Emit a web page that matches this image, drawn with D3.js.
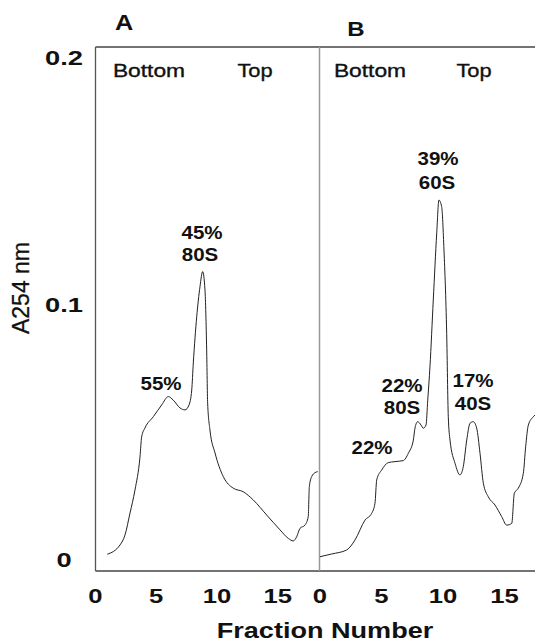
<!DOCTYPE html>
<html>
<head>
<meta charset="utf-8">
<script src="https://cdn.jsdelivr.net/npm/d3@7"></script>
<style>
  html, body { margin: 0; padding: 0; background: #fff; }
  svg { display: block; }
  text { font-family: "Liberation Sans", Arial, Helvetica, sans-serif; fill: #111; }
</style>
</head>
<body>
<svg id="chart" width="535" height="641"></svg>
<script>
// ---- Data ----
const fracA = [0.97, 2.02, 2.43, 2.84, 3.25, 3.66, 3.80, 4.07, 4.76, 5.45, 5.99, 6.40, 6.95, 7.37, 7.70, 7.92, 8.05, 8.33, 8.60, 8.82, 9.01, 9.15, 9.23, 9.42, 9.84, 10.52, 11.34, 12.16, 12.99, 14.09, 15.19, 15.87, 16.28, 16.56, 16.83, 17.24, 17.51, 17.60, 17.79, 18.07, 18.29];
const absA  = [0.0023, 0.006, 0.010, 0.0187, 0.0279, 0.041, 0.0491, 0.0526, 0.0571, 0.0618, 0.0651, 0.0637, 0.0606, 0.0598, 0.0618, 0.0677, 0.0785, 0.0969, 0.1089, 0.1149, 0.1076, 0.0837, 0.0625, 0.0518, 0.0426, 0.0332, 0.0286, 0.0272, 0.0239, 0.0179, 0.0120, 0.0086, 0.0076, 0.0093, 0.0126, 0.0139, 0.0173, 0.0292, 0.0332, 0.0348, 0.0352];

const fracB = [0, 0.95, 2.17, 2.85, 3.66, 4.20, 4.47, 4.61, 5.02, 5.55, 6.10, 6.77, 7.18, 7.59, 7.72, 7.94, 8.21, 8.40, 8.62, 8.76, 8.94, 9.21, 9.49, 9.67, 9.89, 10.08, 10.30, 10.43, 10.57, 10.98, 11.38, 11.65, 11.93, 12.20, 12.46, 12.74, 13.01, 13.28, 13.68, 14.23, 14.77, 15.18, 15.59, 15.80, 16.12, 16.53, 16.72, 16.94, 17.35, 17.48];
const absB  = [0.0013, 0.0024, 0.0040, 0.0080, 0.0159, 0.0186, 0.0226, 0.0319, 0.0359, 0.0388, 0.0392, 0.0396, 0.0425, 0.0478, 0.0525, 0.0551, 0.0538, 0.0525, 0.0538, 0.0637, 0.0770, 0.1036, 0.1302, 0.1434, 0.1408, 0.1235, 0.0903, 0.0571, 0.0478, 0.0385, 0.0339, 0.0372, 0.0478, 0.0545, 0.0551, 0.0525, 0.0425, 0.0306, 0.0252, 0.0219, 0.0173, 0.0139, 0.0146, 0.0266, 0.0286, 0.0345, 0.0451, 0.0538, 0.0571, 0.0578];

const panelTitles = ["A", "B"];
const xTickValues = [0, 5, 10, 15];
const yTickValues = [0, 0.1, 0.2];
const yTickLabels = ["0", "0.1", "0.2"];
const gradientLabels = ["Bottom", "Top"];
const peakLabelsA = [["45%", "80S"], ["55%"]];
const peakLabelsB = [["39%", "60S"], ["22%", "80S"], ["17%", "40S"], ["22%"]];

// ---- Layout ----
const svg = d3.select("#chart");
const frameTop = 47, frameBottom = 571, frameLeft = 95.5, divider = 319.5, frameRight = 535;

const y = d3.scaleLinear().domain([0, 0.2]).range([560, 58]);
const xA = d3.scaleLinear().domain([0, 18.4]).range([frameLeft, frameLeft + 18.4 * 12.15]);
const xB = d3.scaleLinear().domain([0, 17.48]).range([320, 535]);

function label(g, x, yy, txt, o) {
  const t = g.append("text")
    .attr("transform", `translate(${x},${yy}) scale(${o.sx || 1},1)`)
    .attr("text-anchor", o.anchor || "middle")
    .attr("dy", "0.35em")
    .style("font-size", o.size + "px")
    .style("font-weight", o.weight || "normal")
    .text(txt);
  if (o.stroke) t.attr("stroke", "#111").attr("stroke-width", o.stroke);
  return t;
}

// Frame
const frame = svg.append("g");
frame.append("line").attr("x1", frameLeft).attr("x2", frameRight).attr("y1", frameTop).attr("y2", frameTop)
  .attr("stroke", "#444").attr("stroke-width", 1.3);
frame.append("line").attr("x1", frameLeft).attr("x2", frameRight).attr("y1", frameBottom).attr("y2", frameBottom)
  .attr("stroke", "#444").attr("stroke-width", 1.5);
frame.append("line").attr("x1", frameLeft).attr("x2", frameLeft).attr("y1", frameTop).attr("y2", frameBottom)
  .attr("stroke", "#555").attr("stroke-width", 1.3);
frame.append("line").attr("x1", divider).attr("x2", divider).attr("y1", frameTop).attr("y2", frameBottom)
  .attr("stroke", "#999").attr("stroke-width", 1.5);

// Curves
const lineA = d3.line().x((d, i) => xA(fracA[i])).y((d, i) => y(absA[i])).curve(d3.curveMonotoneX);
const lineB = d3.line().x((d, i) => xB(fracB[i])).y((d, i) => y(absB[i])).curve(d3.curveMonotoneX);
svg.append("path").attr("d", lineA(fracA)).attr("fill", "none").attr("stroke", "#222").attr("stroke-width", 1);
svg.append("path").attr("d", lineB(fracB)).attr("fill", "none").attr("stroke", "#222").attr("stroke-width", 1);

// Y tick labels
const gl = svg.append("g");
yTickValues.forEach((v, i) => label(gl, 64, y(v) - (v === 0.1 ? 4 : 0), yTickLabels[i], { size: 21, weight: "bold", sx: 1.3 }));
// Y axis title
gl.append("text")
  .attr("transform", `translate(21,288) rotate(-90)`)
  .attr("text-anchor", "middle").attr("dy", "0.35em")
  .attr("stroke", "#111").attr("stroke-width", 0.3)
  .style("font-size", "23px")
  .text("A254 nm");

// X tick labels
xTickValues.forEach(v => label(gl, xA(v), 596, String(v), { size: 21, weight: "bold", sx: 1.22 }));
xTickValues.forEach(v => label(gl, xB(v), 596, String(v), { size: 21, weight: "bold", sx: 1.22 }));
label(gl, 325, 630, "Fraction Number", { size: 22, weight: "bold", sx: 1.23 });

// Panel titles
label(gl, 124, 22, panelTitles[0], { size: 22, weight: "bold", sx: 1.15 });
label(gl, 356, 29, panelTitles[1], { size: 20, weight: "bold", sx: 1.2 });

// Gradient labels
const grad = { size: 19, sx: 1.2, stroke: 0.35 };
label(gl, 149, 70, gradientLabels[0], grad);
label(gl, 255, 70, gradientLabels[1], Object.assign({}, grad, { sx: 1.15 }));
label(gl, 370, 70, gradientLabels[0], grad);
label(gl, 474, 70, gradientLabels[1], Object.assign({}, grad, { sx: 1.15 }));

// Peak annotations
const ann = { size: 19, weight: "bold", sx: 1.08 };
label(gl, 202, 232, peakLabelsA[0][0], ann);
label(gl, 200, 254, peakLabelsA[0][1], ann);
label(gl, 161, 383, peakLabelsA[1][0], ann);

label(gl, 438, 158, peakLabelsB[0][0], ann);
label(gl, 437, 182, peakLabelsB[0][1], ann);
label(gl, 402, 385, peakLabelsB[1][0], ann);
label(gl, 402, 407, peakLabelsB[1][1], ann);
label(gl, 473, 380, peakLabelsB[2][0], ann);
label(gl, 473, 403, peakLabelsB[2][1], ann);
label(gl, 372, 447, peakLabelsB[3][0], ann);
</script>
</body>
</html>
